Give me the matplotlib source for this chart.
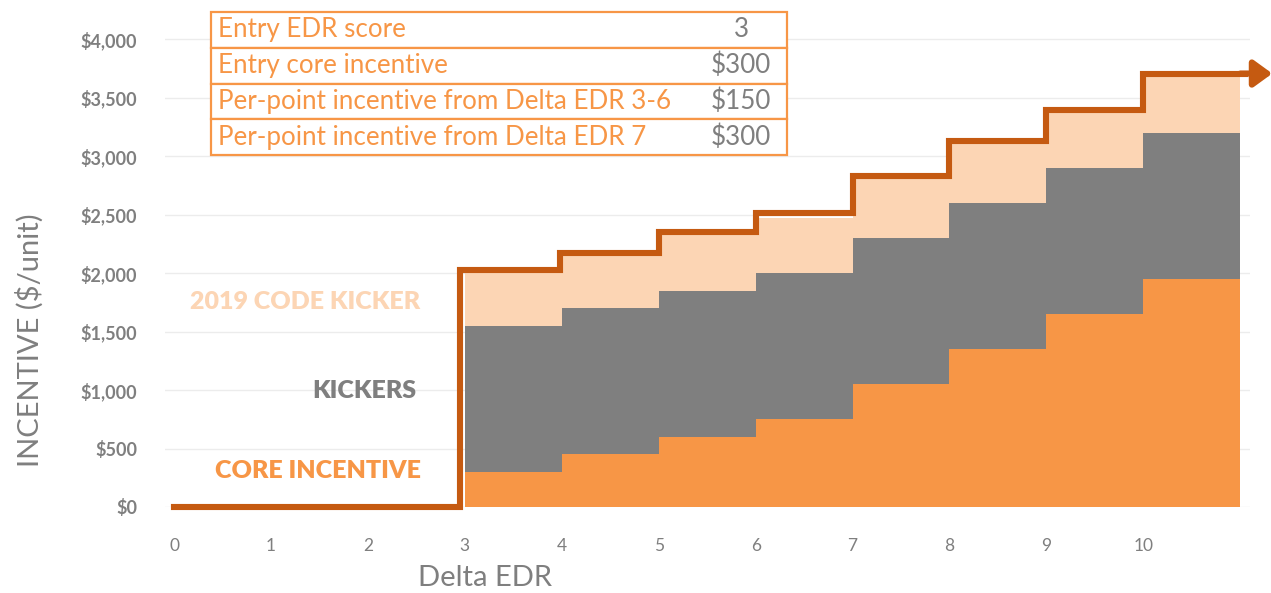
import numpy as np
import matplotlib.pyplot as plt
from matplotlib.patches import Rectangle

plt.rcParams['font.family'] = ['Lato', 'DejaVu Sans']

# stacked bands, one value per Delta EDR step 3..10 (each step runs to the next integer)
steps = [3, 4, 5, 6, 7, 8, 9, 10]
core = [300, 450, 600, 750, 1050, 1350, 1650, 1950]
kickers = [1250, 1250, 1250, 1250, 1250, 1250, 1250, 1250]
code_kicker = [450, 450, 480, 470, 500, 500, 470, 475]

# outline of the total incentive
line_x = [0, 2.95, 3.98, 5.0, 6.0, 7.0, 8.0, 9.0, 10.0]
line_y = [0, 2030, 2175, 2350, 2510, 2830, 3125, 3390, 3705]

table_labels = ['Entry EDR score', 'Entry core incentive',
                'Per-point incentive from Delta EDR 3-6',
                'Per-point incentive from Delta EDR 7']
table_values = ['3', '$300', '$150', '$300']

ORANGE = '#f79646'
GRAY = '#7f7f7f'
PEACH = '#fcd5b4'
DARK = '#c55a11'

W, H = 1271, 593
fig = plt.figure(figsize=(W / 100, H / 100), dpi=100)


def fx(px):
    return px / W


def fy(py):
    return 1 - py / H


ax = fig.add_axes([fx(165), fy(507), fx(1250) - fx(165), fy(12) - fy(507)])
ax.set_xlim(-0.093, 11.10)
ax.set_ylim(0, 4231)

x_edges = np.array(steps + [11])
core_a = np.array(core)
kick_a = core_a + np.array(kickers)
code_a = kick_a + np.array(code_kicker)


def stair(vals):
    return np.append(vals, vals[-1])


ax.fill_between(x_edges, 0, stair(core_a), step='post', color=ORANGE, lw=0, zorder=2)
ax.fill_between(x_edges, stair(core_a), stair(kick_a), step='post', color=GRAY, lw=0, zorder=2)
ax.fill_between(x_edges, stair(kick_a), stair(code_a), step='post', color=PEACH, lw=0, zorder=2)

lx = line_x + [11.05]
ly = line_y + [line_y[-1]]
ax.step(lx, ly, where='post', color=DARK, lw=4.4, zorder=4, solid_joinstyle='miter',
        clip_on=False)
ax.annotate('', xy=(11.33, line_y[-1]), xytext=(11.0, line_y[-1]),
            arrowprops=dict(arrowstyle='-|>,head_length=1.1,head_width=0.8',
                            color=DARK, lw=4.4, shrinkA=0, shrinkB=0),
            annotation_clip=False, zorder=5)

for s in ax.spines.values():
    s.set_visible(False)
ax.set_yticks(np.arange(0, 4001, 500))
ax.set_yticklabels([f'${v:,.0f}' for v in np.arange(0, 4001, 500)],
                   color=GRAY, fontsize=13, fontweight='bold')
ax.set_xticks(range(0, 11))
ax.set_xticklabels([str(i) for i in range(11)], color=GRAY, fontsize=12.5)
ax.tick_params(length=0)
ax.tick_params(axis='y', pad=20)
ax.tick_params(axis='x', pad=22)
ax.grid(axis='y', color='#ececec', lw=1, zorder=0)
ax.set_axisbelow(True)

ax.text(2.54, 1752, '2019 CODE KICKER', color=PEACH, fontsize=18, fontweight='heavy',
        ha='right', va='center')
ax.text(2.50, 991, 'KICKERS', color=GRAY, fontsize=18, fontweight='heavy',
        ha='right', va='center')
ax.text(2.55, 308, 'CORE INCENTIVE', color=ORANGE, fontsize=18, fontweight='heavy',
        ha='right', va='center')

fig.text(fx(30), fy(340), 'INCENTIVE ($/unit)', rotation=90, color=GRAY, fontsize=21,
         ha='center', va='center')
fig.text(fx(485), fy(578), 'Delta EDR', color=GRAY, fontsize=21, ha='center', va='center')

# little table of parameters
top, bot, left, right = 12, 155, 211, 787
row_h = (bot - top) / len(table_labels)
for i, (lab, val) in enumerate(zip(table_labels, table_values)):
    y0 = top + i * row_h
    fig.add_artist(Rectangle((fx(left), fy(y0 + row_h)), fx(right) - fx(left),
                             fy(y0) - fy(y0 + row_h), transform=fig.transFigure,
                             fill=True, facecolor='white', edgecolor=ORANGE, lw=1.6))
    fig.text(fx(218), fy(y0 + row_h / 2), lab, color=ORANGE, fontsize=18.7,
             ha='left', va='center')
    fig.text(fx(741), fy(y0 + row_h / 2), val, color=GRAY, fontsize=18.7,
             ha='center', va='center')

fig.savefig('out.png', dpi=100)
